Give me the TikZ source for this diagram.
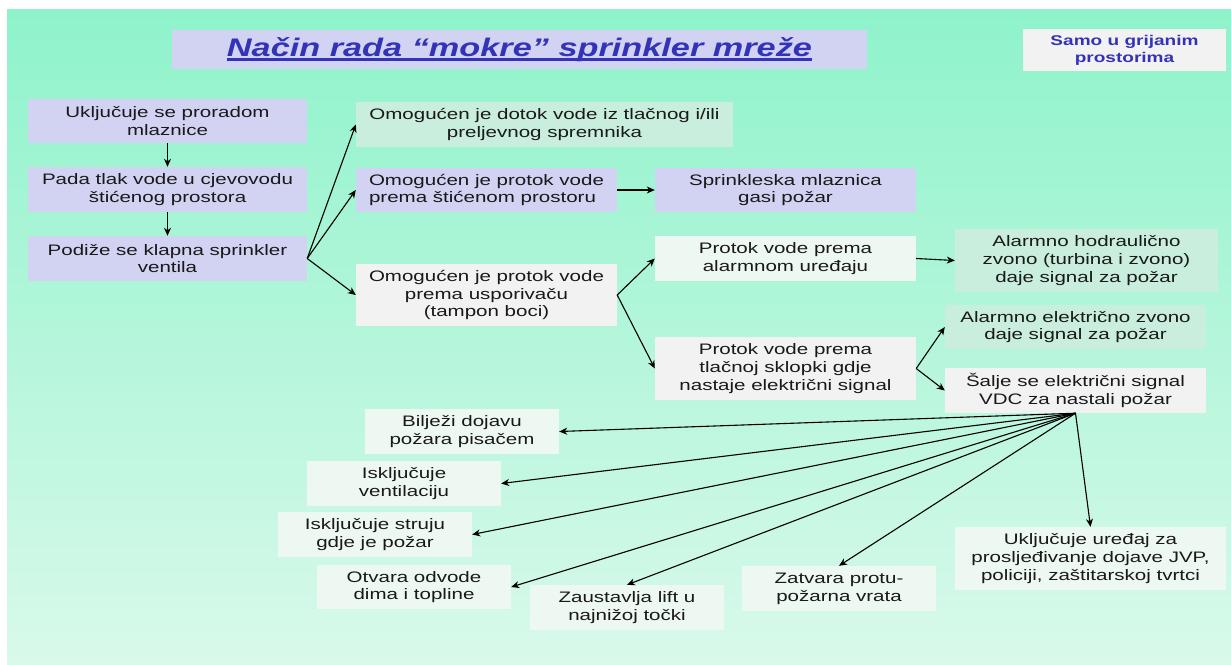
\documentclass[tikz,border=0pt]{standalone}
\usepackage{fontspec}
\setmainfont{Liberation Sans}[FakeStretch=1.35]
\usetikzlibrary{arrows.meta,positioning,calc}
\definecolor{sea}{HTML}{8EF3CA}
\definecolor{foam}{HTML}{D9F9EB}
\definecolor{lilac}{HTML}{D2D2F3}
\definecolor{mint}{HTML}{C9EEDD}
\definecolor{ash}{HTML}{F2F2F2}
\definecolor{pale}{HTML}{EEF8F2}
\definecolor{ink}{HTML}{3333B8}
\tikzset{box/.style={inner sep=0pt,align=center,text=black!90,font=\fontsize{15.2}{17.7}\selectfont},
  arr/.style={-{Stealth[length=8pt,width=7pt,inset=2.5pt]},line width=1.1pt,draw=black}}
\newcommand{\boxat}[7]{\node[box,fill=#2,minimum width=#5pt,minimum height=#6pt,#7] (#1) at (#3,#4)}
\begin{document}
\begin{tikzpicture}[x=1pt,y=-1pt]
\useasboundingbox (0,0) rectangle (1231,664);
\fill[white] (0,0) rectangle (1231,664);
\shade[top color=sea,bottom color=foam] (7,9) rectangle (1231,664);
% title and note
\node[fill=lilac,minimum width=695pt,minimum height=39pt,inner sep=0pt,text=ink,
  font=\fontsize{25.4}{30}\selectfont\bfseries\itshape] (ttl) at (519.5,49.5)
  {\setbox0\hbox{Način rada “mokre” sprinkler mreže}\rlap{\rule[-4.5pt]{\wd0}{2.6pt}}\box0};
\node[fill=ash,minimum width=203pt,minimum height=42pt,inner sep=0pt,align=center,text=ink,
  font=\fontsize{14.1}{17}\selectfont\bfseries] (note) at (1124.5,50) {Samo u grijanim\\prostorima};
% left column
\boxat{u1}{lilac}{167.5}{121}{279}{44}{}{Uključuje se proradom\\mlaznice};
\boxat{u2}{lilac}{167.5}{189.5}{279}{45}{}{Pada tlak vode u cjevovodu\\štićenog prostora};
\boxat{u3}{lilac}{167.5}{258.5}{279}{45}{}{Podiže se klapna sprinkler\\ventila};
% middle column
\boxat{m1}{mint}{544.5}{124.5}{377}{45}{}{Omogućen je dotok vode iz tlačnog i/ili\\preljevnog spremnika};
\boxat{m2}{lilac}{486.5}{190}{261}{44}{align=left}{Omogućen je protok vode\\prema štićenom prostoru};
\boxat{m3}{ash}{486.5}{295}{261}{62}{}{Omogućen je protok vode\\prema usporivaču\\(tampon boci)};
\boxat{spr}{lilac}{785.5}{190}{261}{44}{}{Sprinkleska mlaznica\\gasi požar};
\boxat{p1}{pale}{785.5}{258.5}{261}{45}{}{Protok vode prema\\alarmnom uređaju};
\boxat{p2}{ash}{785.5}{368.5}{261}{63}{}{Protok vode prema\\tlačnoj sklopki gdje\\nastaje električni signal};
% right column
\boxat{a1}{mint}{1086.5}{260.5}{263}{63}{}{Alarmno hodraulično\\zvono (turbina i zvono)\\daje signal za požar};
\boxat{a2}{mint}{1075.5}{327}{261}{44}{}{Alarmno električno zvono\\daje signal za požar};
\boxat{vdc}{ash}{1075.5}{390.5}{261}{45}{}{Šalje se električni signal\\VDC za nastali požar};
% actions
\boxat{b1}{pale}{462}{431.5}{194}{45}{}{Bilježi dojavu\\požara pisačem};
\boxat{b2}{pale}{404}{483.5}{194}{45}{}{Isključuje\\ventilaciju};
\boxat{b3}{pale}{375}{534.5}{194}{45}{}{Isključuje struju\\gdje je požar};
\boxat{b4}{pale}{414}{587}{194}{44}{}{Otvara odvode\\dima i topline};
\boxat{b5}{pale}{627}{607.5}{194}{45}{}{Zaustavlja lift u\\najnižoj točki};
\boxat{b6}{pale}{839}{588.5}{194}{45}{}{Zatvara protu-\\požarna vrata};
\boxat{b7}{pale}{1090.5}{558.5}{271}{63}{}{Uključuje uređaj za\\prosljeđivanje dojave JVP,\\policiji, zaštitarskoj tvrtci};
% connectors
\draw[arr] (u1) -- (u2);
\draw[arr] (u2) -- (u3);
\foreach \t in {m1,m2,m3} \draw[arr] (u3.east) -- (\t.west);
\draw[arr] (m2) -- (spr);
\foreach \t in {p1,p2} \draw[arr] (m3.east) -- (\t.west);
\draw[arr] (p1.east) -- (a1.west);
\foreach \t in {a2,vdc} \draw[arr] (p2.east) -- (\t.west);
\foreach \t/\a in {b1/east,b2/east,b3/east,b4/east,b5/north,b6/north,b7/north}
  \draw[arr] (vdc.south) -- (\t.\a);
\end{tikzpicture}
\end{document}
